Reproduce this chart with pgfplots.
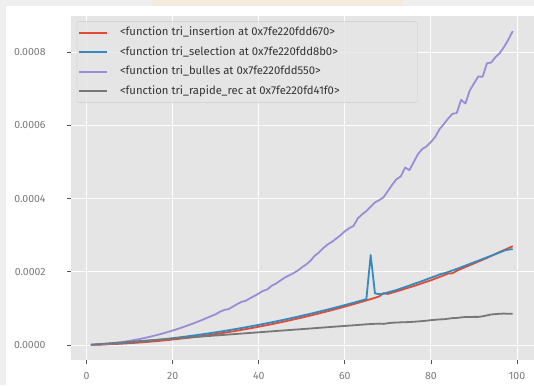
\documentclass[border=0pt]{standalone}
\usepackage{pgfplots}
\pgfplotsset{compat=1.18}
\usepackage{fontspec}
\setmainfont{Fira Sans}
\definecolor{outerbg}{HTML}{F0EFEF}
\definecolor{beigebg}{HTML}{F4EBDE}
\definecolor{axbg}{HTML}{E5E5E5}
\definecolor{colins}{HTML}{E24A33}
\definecolor{colsel}{HTML}{348ABD}
\definecolor{colbul}{HTML}{988ED5}
\definecolor{colrap}{HTML}{777777}
\definecolor{tickc}{HTML}{555555}
\definecolor{labc}{HTML}{7A7A7A}
\begin{document}
\begin{tikzpicture}
\fill[outerbg] (0,0) rectangle (534pt,385pt);
\fill[white] (6pt,0) rectangle (534pt,379pt);
\fill[beigebg] (152pt,379pt) rectangle (403pt,385pt);
\begin{axis}[
  at={(70.6pt,24.6pt)}, anchor=south west,
  scale only axis, width=463.4pt, height=344.7pt,
  xmin=-3.7, xmax=103.94, ymin=-42, ymax=900,
  axis background/.style={fill=axbg},
  axis line style={draw=none},
  grid=major, major grid style={white, line width=1pt},
  xtick={0,20,40,60,80,100},
  ytick={0,200,400,600,800},
  yticklabels={0.0000,0.0002,0.0004,0.0006,0.0008},
  tick align=outside, major tick length=3.5pt,
  xtick pos=bottom, ytick pos=left,
  tick style={tickc, line width=0.8pt},
  /pgf/number format/assume math mode=true,
  tick label style={font=\fontsize{10.5}{12}\selectfont, text=labc},
  yticklabel style={xshift=-18pt},
  xticklabel style={yshift=-5pt},
  legend cell align=left,
  legend style={at={(axis description cs:0,1)}, anchor=north west,
    xshift=6.2pt, yshift=-5.7pt,
    fill=axbg, fill opacity=0.8, text opacity=1, draw=black!20, rounded corners=2pt,
    inner xsep=1pt, inner ysep=6.5pt,
    nodes={inner xsep=3.2pt, inner ysep=0pt, text height=7.5pt, text depth=2pt},
    row sep=10pt, column sep=9pt,
    font=\fontsize{11.3}{13}\selectfont, text=black!80},
  legend image code/.code={\draw[#1] (0pt,0pt) -- (28pt,0pt);},
]
\addplot[draw=colins, line width=1.8pt, line join=round] table {
x y
1 0.28
2 0.6
3 0.98
4 1.4
5 1.88
6 2.4
7 2.98
8 3.6
9 4.28
10 5.0
11 5.78
12 6.6
13 7.48
14 8.4
15 9.38
16 10.4
17 11.48
18 12.6
19 13.78
20 15.0
21 16.28
22 17.6
23 18.98
24 20.4
25 21.88
26 23.4
27 24.98
28 26.6
29 28.28
30 30.0
31 31.78
32 33.6
33 35.48
34 37.4
35 39.38
36 41.4
37 43.48
38 45.6
39 47.78
40 50.0
41 52.28
42 54.6
43 56.98
44 59.4
45 61.88
46 64.4
47 66.98
48 69.6
49 72.28
50 75.0
51 77.78
52 80.6
53 83.48
54 86.4
55 89.38
56 92.4
57 95.48
58 98.6
59 101.78
60 105.0
61 108.28
62 111.6
63 114.98
64 118.4
65 121.88
66 125.4
67 129
68 133
69 142
70 139.5
71 143
72 146.5
73 150
74 154
75 157.5
76 161
77 165
78 169
79 173
80 177
81 181.5
82 186
83 190.5
84 195.5
85 196
86 203
87 208
88 213
89 218
90 223
91 228
92 233
93 238
94 243.5
95 249
96 254.5
97 259.5
98 265
99 270
};
\addlegendentry{\makebox[293pt][l]{\textless function tri\_insertion at 0x7fe220fdd670\textgreater}}
\addplot[draw=colsel, line width=1.8pt, line join=round] table {
x y
1 0.52
2 1.09
3 1.70
4 2.35
5 3.05
6 3.79
7 4.58
8 5.41
9 6.28
10 7.2
11 8.16
12 9.17
13 10.22
14 11.31
15 12.45
16 13.63
17 14.86
18 16.13
19 17.44
20 18.8
21 20.2
22 21.65
23 23.14
24 24.67
25 26.25
26 27.87
27 29.54
28 31.25
29 33.0
30 34.8
31 36.64
32 38.53
33 40.46
34 42.43
35 44.45
36 46.51
37 48.62
38 50.77
39 52.96
40 55.2
41 57.48
42 59.81
43 62.18
44 64.59
45 67.05
46 69.55
47 72.1
48 74.69
49 77.32
50 80
51 82.72
52 85.49
53 88.3
54 91.15
55 94.05
56 96.99
57 99.98
58 103.0
59 106.1
60 109.2
61 112.4
62 115.6
63 118.8
64 122.1
65 125.5
66 246
67 141
68 139
69 140
70 144
71 147
72 150.5
73 154.5
74 158.5
75 162.5
76 167
77 171
78 175
79 179.5
80 184
81 188
82 193
83 196
84 199.5
85 204
86 208
87 212.5
88 217
89 221.5
90 226
91 230.5
92 235
93 239.5
94 244
95 248.5
96 253
97 258
98 261
99 262
};
\addlegendentry{\textless function tri\_selection at 0x7fe220fdd8b0\textgreater}
\addplot[draw=colbul, line width=1.8pt, line join=round] table {
x y
1 0.38
2 0.94
3 1.66
4 2.54
5 3.6
6 4.82
7 6.2
8 7.78
9 9.5
10 11.4
11 13.5
12 15.7
13 18.1
14 20.7
15 23.4
16 26.3
17 29.4
18 32.6
19 36.0
20 39.6
21 43.3
22 47.3
23 51.3
24 55.6
25 60.0
26 64.6
27 69.3
28 74.3
29 79.3
30 84
31 91
32 96
33 98
34 105
35 112
36 118
37 121
38 128
39 134
40 141
41 148
42 152
43 162
44 168
45 176
46 184
47 190
48 196
49 203
50 212
51 220
52 230
53 244
54 253
55 265
56 275
57 282
58 291
59 300
60 311
61 319
62 325
63 346
64 357
65 366
66 378
67 390
68 396
69 404
70 421
71 438
72 453
73 461
74 485
75 478
76 500
77 522
78 536
79 543
80 555
81 569
82 590
83 604
84 619
85 632
86 634
87 670
88 660
89 695
90 715
91 734
92 733
93 770
94 772
95 787
96 798
97 815
98 835
99 858
};
\addlegendentry{\textless function tri\_bulles at 0x7fe220fdd550\textgreater}
\addplot[draw=colrap, line width=1.8pt, line join=round] table {
x y
1 0.9
2 1.7
3 2.6
4 3.5
5 4.3
6 5.2
7 6.1
8 7.0
9 7.8
10 8.7
11 9.6
12 10.4
13 11.3
14 12.2
15 13.0
16 13.9
17 14.8
18 15.7
19 16.5
20 17.4
21 18.3
22 19.1
23 20.0
24 20.9
25 21.8
26 22.6
27 23.5
28 24.4
29 25.2
30 26.1
31 27.0
32 27.8
33 28.7
34 29.6
35 30.5
36 31.3
37 32.2
38 33.1
39 33.9
40 34.8
41 35.7
42 36.5
43 37.4
44 38.3
45 39.2
46 40.0
47 40.9
48 41.8
49 42.6
50 43.5
51 44.4
52 45.2
53 46.1
54 47.0
55 47.9
56 48.7
57 49.6
58 50.5
59 51.3
60 52.2
61 53.1
62 53.9
63 54.8
64 55.7
65 56.6
66 57.4
67 58.0
68 58.5
69 57.8
70 59.6
71 61.0
72 61.5
73 62.0
74 62.3
75 63.0
76 63.5
77 64.5
78 65.5
79 66.5
80 68.0
81 69.0
82 70.0
83 70.5
84 72.0
85 73.5
86 74.0
87 75.5
88 76.5
89 76.5
90 77.0
91 77.0
92 78.5
93 81.0
94 83.5
95 84.5
96 85.5
97 86.0
98 85.5
99 85.5
};
\addlegendentry{\textless function tri\_rapide\_rec at 0x7fe220fd41f0\textgreater}
\end{axis}
\pgfresetboundingbox
\path[use as bounding box] (0,0) rectangle (534pt,385pt);
\end{tikzpicture}
\end{document}
